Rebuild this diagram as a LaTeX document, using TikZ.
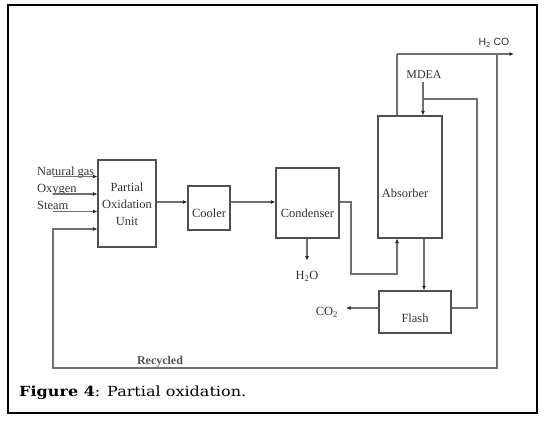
\documentclass[tikz,border=0pt]{standalone}
\usepackage{fontspec}
\setmainfont{Liberation Serif}
\newfontfamily\sansf{Liberation Sans}
\newfontfamily\capfont{DejaVu Serif}
\usetikzlibrary{arrows.meta}
\definecolor{ln}{HTML}{707070}
\definecolor{bx}{HTML}{505050}
\definecolor{tx}{HTML}{333333}
\begin{document}
\begin{tikzpicture}[x=1bp,y=-1bp,
  box/.style={draw=bx,line width=1.1bp,minimum width=#1,inner sep=0pt},
  flow/.style={draw=ln,line width=1.1bp},
  arr/.style={flow,-{Latex[length=4.5bp,width=4bp,color=black!85]}},
  lbl/.style={text=tx,font=\fontsize{12.5}{17}\selectfont,inner sep=0pt},
  frame/.style={draw=black,line width=2bp}]
\useasboundingbox (0,0) rectangle (547,421);
\draw[frame] (8,5) rectangle (537,413);
% boxes
\node[box=58bp,minimum height=87bp] (pou) at (127,203.5) {};
\node[lbl,align=center] (poul) at (127,204) {Partial\\Oxidation\\Unit};
\node[box=42bp,minimum height=44bp] (cool) at (209,208) {};
\node[lbl] (cooll) at (209,213) {Cooler};
\node[box=63bp,minimum height=70bp] (cond) at (307.5,203) {};
\node[lbl] (condl) at (307.5,213) {Condenser};
\node[box=64bp,minimum height=122bp] (abs) at (410,177) {};
\node[lbl] (absl) at (405,193) {Absorber};
\node[box=72bp,minimum height=42bp] (fl) at (415,312) {};
\node[lbl] (fll) at (415,318) {Flash};
% inputs
\node[lbl,anchor=base west] (ng) at (37,175) {Natural gas};
\node[lbl,anchor=base west] (ox) at (37,192) {Oxygen};
\node[lbl,anchor=base west] (st) at (37,209) {Steam};
\coordinate (ngs) at (53,176.5);
\coordinate (oxs) at (53,194);
\coordinate (sts) at (53,211.5);
\draw[arr] (ngs) -- (ngs -| pou.west);
\draw[arr] (oxs) -- (oxs -| pou.west);
\draw[arr] (sts) -- (sts -| pou.west);
% main line
\coordinate (ml) at (0,202);
\draw[arr] (ml -| pou.east) -- (ml -| cool.west);
\draw[arr] (ml -| cool.east) -- (ml -| cond.west);
\coordinate (j1) at (351,274);
\coordinate (j2) at (397,274);
\draw[arr] (ml -| cond.east) -| (j1) -- (j2) -- (j2 |- abs.south);
% H2O
\node[lbl] (h2o) at (307,276) {H\textsubscript{2}O};
\draw[arr] (cond.south -| h2o) -- ++(0,22);
% top product
\coordinate (tp) at (397,54);
\coordinate (out) at (514,54);
\draw[flow] (tp |- abs.north) -- (tp);
\draw[arr] (tp) -- (out);
\node[text=tx,font=\sansf\fontsize{10.5}{12}\selectfont,inner sep=0pt] (h2co) at (494,43) {H\textsubscript{2} CO};
% MDEA
\node[lbl,font=\fontsize{12}{14}\selectfont] (mdea) at (424,75) {MDEA};
\coordinate (md) at (423,82);
\draw[arr] (md) -- (md |- abs.north);
% flash return
\coordinate (fr) at (0,308);
\coordinate (r1) at (477,99);
\draw[flow] (fr -| fl.east) -| (r1) -- (r1 -| md);
% absorber to flash
\coordinate (af) at (424,0);
\draw[arr] (af |- abs.south) -- (af |- fl.north);
% CO2
\node[lbl] (co2) at (327,312) {CO\textsubscript{2}};
\coordinate (co2e) at (346,308);
\draw[arr] (fr -| fl.west) -- (co2e);
% recycle
\coordinate (rc1) at (497,368);
\coordinate (rc2) at (53,368);
\coordinate (rc3) at (53,229);
\draw[arr] (rc1 |- tp) -- (rc1) -- (rc2) -- (rc3) -- (rc3 -| pou.west);
\node[lbl,text=bx,font=\bfseries\fontsize{12}{14}\selectfont] (rec) at (160,362) {Recycled};
% caption
\node[anchor=base west,inner sep=0pt,xscale=1.15,font=\capfont\fontsize{14}{16}\selectfont] (cap) at (19,396) {\textbf{Figure 4}: Partial oxidation.};
\end{tikzpicture}
\end{document}
